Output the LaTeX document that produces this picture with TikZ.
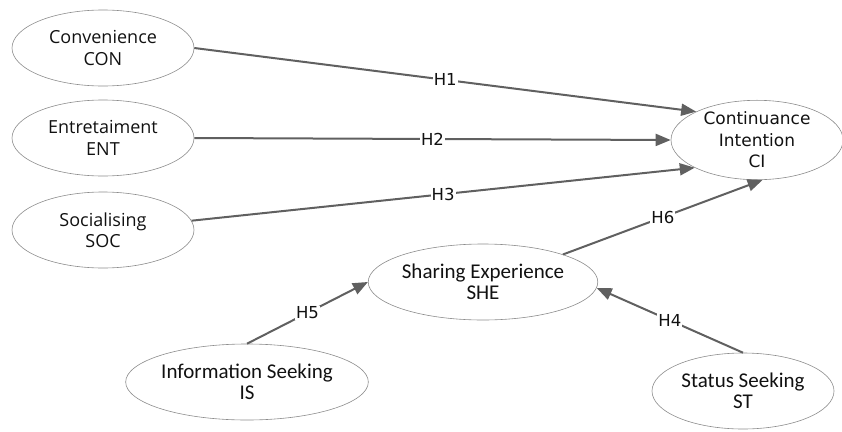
\documentclass[tikz,border=0pt]{standalone}
\usepackage{fontspec}
\newfontfamily\fA{Open Sans}
\newfontfamily\fB{Carlito}
\newfontfamily\fC{DejaVu Sans}
\usetikzlibrary{shapes.geometric,arrows.meta}
\definecolor{edgegray}{HTML}{606060}
\definecolor{bordergray}{HTML}{8C8C8C}
\definecolor{txt}{HTML}{111111}
\tikzset{
  latent/.style={ellipse, draw=bordergray, line width=0.6pt, inner sep=0pt, align=center, text=txt},
  fontA/.style={font=\fA\fontsize{18}{21.5}\selectfont},
  fontB/.style={font=\fB\fontsize{21}{21.5}\selectfont},
  fontC/.style={font=\fC\fontsize{17}{21.5}\selectfont},
  path/.style={draw=edgegray, line width=2pt, -{Triangle[length=15pt,width=12pt]}},
  hlabel/.style={fill=white, inner sep=1pt, text=txt, font=\fC\fontsize{16.5}{20}\selectfont, pos=0.5},
}
\begin{document}
\begin{tikzpicture}[x=1pt,y=-1pt]
\useasboundingbox (0,0) rectangle (842,431);
\node[latent, fontA, minimum width=182pt, minimum height=76pt] (con) at (103,48) {Convenience\\CON};
\node[latent, fontA, minimum width=182pt, minimum height=76pt] (ent) at (103,138) {Entretaiment\\ENT};
\node[latent, fontA, minimum width=182pt, minimum height=76pt] (soc) at (103,230) {Socialising\\SOC};
\node[latent, fontC, minimum width=172pt, minimum height=74pt] (ci) at (757,140) {Continuance\\Intention\\CI};
\node[latent, fontB, minimum width=216pt, minimum height=76pt] (she) at (483,282) {Sharing Experience\\SHE};
\node[latent, fontB, minimum width=212pt, minimum height=76pt] (is) at (247,382) {Information Seeking\\IS};
\node[latent, fontB, minimum width=182pt, minimum height=76pt] (st) at (743,391) {Status Seeking\\ST};

\draw[path] (con.east) -- node[hlabel] {H1} (ci.155);
\draw[path] (ent.east) -- node[hlabel] {H2} (ci.west);
\draw[path] (soc.6) -- node[hlabel] {H3} (ci.204);
\draw[path] (she.19) -- node[hlabel] {H6} (ci.278);
\draw[path] (is.north) -- node[hlabel] {H5} (she.west);
\draw[path] (st.north) -- node[hlabel] {H4} (she.-3);
\end{tikzpicture}
\end{document}
